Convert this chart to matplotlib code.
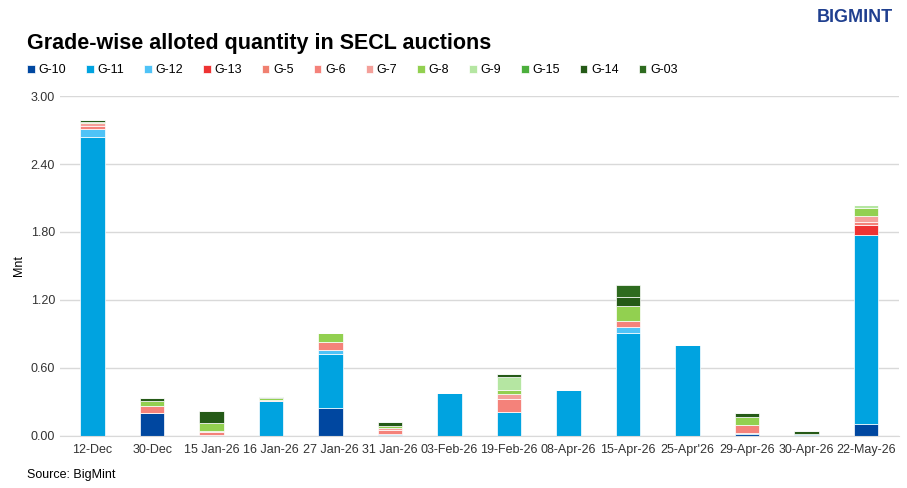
import matplotlib.pyplot as plt
import numpy as np
plt.rcParams['font.family'] = ['Liberation Sans', 'DejaVu Sans']

cats = ["12-Dec","30-Dec","15 Jan-26","16 Jan-26","27 Jan-26","31 Jan-26","03-Feb-26","19-Feb-26","08-Apr-26","15-Apr-26","25-Apr'26","29-Apr-26","30-Apr-26","22-May-26"]
grades = ["G-10","G-11","G-12","G-13","G-5","G-6","G-7","G-8","G-9","G-15","G-14","G-03"]
colors = ["#0047A0","#00A3E0","#4FC3F7","#EE3333","#F08070","#F4827A","#F4A09A","#92D050","#B5E6A2","#4CAF3C","#255A17","#2E6B1F"]
data = {
 "G-10":[0,0.197,0.01,0,0.244,0.005,0,0,0,0,0,0.02,0.01,0.10],
 "G-11":[2.64,0,0,0.31,0.476,0.015,0.377,0.206,0.40,0.912,0.80,0.005,0.005,1.67],
 "G-12":[0.07,0,0,0,0.04,0,0,0,0,0.05,0,0,0,0],
 "G-13":[0,0,0,0,0,0,0,0,0,0,0,0,0,0.092],
 "G-5":[0,0,0,0,0,0,0,0,0,0,0,0,0,0],
 "G-6":[0.03,0.063,0.02,0,0.067,0.027,0,0.12,0,0.056,0,0.069,0,0.028],
 "G-7":[0.02,0.005,0.01,0.01,0,0.023,0,0.039,0,0,0,0,0,0.05],
 "G-8":[0.01,0.045,0.075,0.015,0.083,0.018,0,0.041,0,0.126,0,0.074,0,0.07],
 "G-9":[0,0,0,0,0,0,0,0.117,0,0,0,0,0,0.026],
 "G-15":[0,0,0,0,0,0,0,0,0,0,0,0,0,0],
 "G-14":[0.02,0.025,0.105,0.005,0,0.036,0,0.022,0,0.086,0,0.029,0.023,0],
 "G-03":[0,0,0,0,0,0,0,0,0,0.105,0,0,0,0],
}

fig = plt.figure(figsize=(9.07,4.88), dpi=100)
ax = fig.add_axes([0.066,0.107,0.925,0.696])
x = np.arange(len(cats))
bottom = np.zeros(len(cats))
for g,c in zip(grades,colors):
    v = np.array(data[g])
    ax.bar(x, v, 0.41, bottom=bottom, color=c, edgecolor="white", linewidth=0.5, label=g)
    bottom += v
ax.set_ylim(0,3.0)
ax.set_xlim(-0.55,len(cats)-0.45)
ax.set_yticks(np.arange(0,3.01,0.6))
ax.set_yticklabels([f"{t:.2f}" for t in np.arange(0,3.01,0.6)])
ax.set_xticks(x)
ax.set_xticklabels(cats)
ax.tick_params(length=0, labelsize=9, colors="#333333")
ax.tick_params(axis="x", pad=6)
ax.grid(axis="y", color="#d9d9d9", linewidth=1)
ax.set_axisbelow(True)
for s in ["top","right","left"]:
    ax.spines[s].set_visible(False)
ax.spines["bottom"].set_color("#d9d9d9")
ax.set_ylabel("Mnt", fontsize=9)
fig.text(0.03,0.9,"Grade-wise alloted quantity in SECL auctions", fontsize=15.5, fontweight="bold")
fig.text(0.03,0.02,"Source: BigMint", fontsize=9)
fig.text(0.985,0.955,"BIGMINT", fontsize=13, fontweight="bold", color="#1f3f8f", ha="right")
ax.legend(ncol=12, loc="lower left", bbox_to_anchor=(-0.052,1.025), frameon=False, fontsize=9,
          handlelength=0.6, handleheight=0.6, columnspacing=1.6, handletextpad=0.3)
fig.savefig("out.png", dpi=100)
